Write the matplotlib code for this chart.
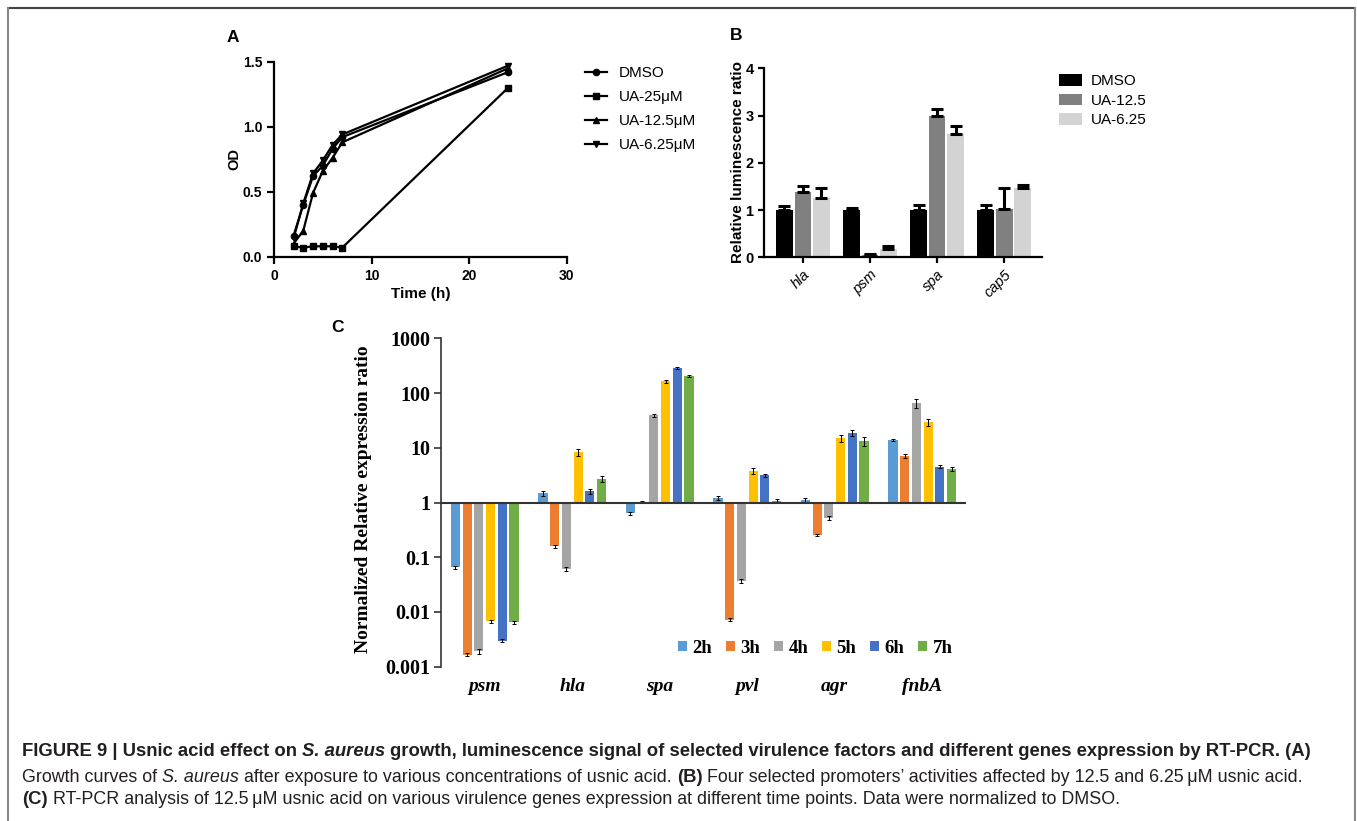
import matplotlib
matplotlib.use("Agg")
import numpy as np
import matplotlib.pyplot as plt
from matplotlib.lines import Line2D

# === Panel A: growth curves ===
time_h = [2, 3, 4, 5, 6, 7, 24]
od_dmso = [0.16, 0.40, 0.62, 0.70, 0.83, 0.92, 1.42]
od_ua25 = [0.08, 0.07, 0.08, 0.08, 0.08, 0.07, 1.30]
od_ua125 = [0.10, 0.20, 0.49, 0.66, 0.76, 0.88, 1.45]
od_ua625 = [0.14, 0.41, 0.64, 0.74, 0.86, 0.94, 1.47]
growth_labels = ["DMSO", "UA-25μM", "UA-12.5μM", "UA-6.25μM"]

# === Panel B: promoter luminescence ===
promoters = ["hla", "psm", "spa", "cap5"]
lum_dmso = [1.0, 1.0, 1.0, 1.0]
lum_dmso_err = [0.09, 0.05, 0.10, 0.10]
lum_ua125 = [1.38, 0.05, 2.98, 1.02]
lum_ua125_err = [0.12, 0.03, 0.15, 0.44]
lum_ua625 = [1.25, 0.18, 2.61, 1.47]
lum_ua625_err = [0.22, 0.05, 0.16, 0.07]
lum_labels = ["DMSO", "UA-12.5", "UA-6.25"]

# === Panel C: RT-PCR ===
genes = ["psm", "hla", "spa", "pvl", "agr", "fnbA"]
time_points = ["2h", "3h", "4h", "5h", "6h", "7h"]
expr_2h = [0.066, 1.48, 0.63, 1.2, 1.12, 13.8]
expr_3h = [0.00165, 0.158, 1.04, 0.0072, 0.256, 7.0]
expr_4h = [0.0019, 0.062, 39, 0.037, 0.52, 65]
expr_5h = [0.0067, 8.3, 163, 3.8, 15, 29.7]
expr_6h = [0.003, 1.59, 284, 3.16, 19, 4.5]
expr_7h = [0.0065, 2.7, 206, 1.07, 13.2, 4.1]
err_2h = [0.004, 0.15, 0.05, 0.1, 0.08, 0.7]
err_3h = [0.0001, 0.01, 0.03, 0.0004, 0.015, 0.6]
err_4h = [0.0002, 0.005, 2.5, 0.003, 0.05, 12]
err_5h = [0.0005, 1.2, 12, 0.5, 2.0, 4.5]
err_6h = [0.0002, 0.15, 12, 0.2, 2.5, 0.3]
err_7h = [0.0004, 0.3, 12, 0.08, 2.5, 0.3]
time_colors = ["#5B9BD5", "#ED7D31", "#A5A5A5", "#FFC000", "#4472C4", "#70AD47"]

W, H = 1357, 821
fig = plt.figure(figsize=(W / 100, H / 100), dpi=100)
plt.rcParams["font.family"] = ["Liberation Sans", "DejaVu Sans"]
serif = ["Liberation Serif", "DejaVu Serif"]


def px_box(x0, y_top, x1, y_bot):
    # pixel box -> figure fraction rect
    return [x0 / W, 1 - y_bot / H, (x1 - x0) / W, (y_bot - y_top) / H]


# ---------- A ----------
axA = fig.add_axes(px_box(274, 61.7, 566.7, 256.7))
series_a = [od_dmso, od_ua25, od_ua125, od_ua625]
markers_a = ["o", "s", "^", "v"]
for vals, mk, lab in zip(series_a, markers_a, growth_labels):
    axA.plot(time_h, vals, color="black", lw=1.6, marker=mk, ms=4.5, label=lab)
axA.set_xlim(0, 30)
axA.set_ylim(0, 1.5)
axA.set_xticks([0, 10, 20, 30])
axA.set_yticks([0.0, 0.5, 1.0, 1.5])
axA.set_yticklabels(["0.0", "0.5", "1.0", "1.5"])
axA.spines[["top", "right"]].set_visible(False)
for s in ["left", "bottom"]:
    axA.spines[s].set_linewidth(1.6)
axA.tick_params(width=1.6, length=5, labelsize=10)
for t in axA.get_xticklabels() + axA.get_yticklabels():
    t.set_fontweight("bold")
axA.set_xlabel("Time (h)", fontsize=11, fontweight="bold", labelpad=3)
axA.set_ylabel("OD", fontsize=10.5, fontweight="bold")
axA.yaxis.set_label_coords(-0.112, 0.5)
axA.legend(loc="upper left", bbox_to_anchor=(585 / W, 1 - 66 / H),
           bbox_transform=fig.transFigure, frameon=False, fontsize=11,
           handlelength=1.45, handletextpad=0.75, labelspacing=0.66,
           borderaxespad=0, borderpad=0)

# ---------- B ----------
axB = fig.add_axes(px_box(764, 68.3, 1041.7, 257.3))
xb = np.arange(len(promoters))
b_series = [(lum_dmso, lum_dmso_err, "black"),
            (lum_ua125, lum_ua125_err, "#808080"),
            (lum_ua625, lum_ua625_err, "#d3d3d3")]
for i, (vals, err, col) in enumerate(b_series):
    pos = xb + (i - 1) * 0.275
    axB.bar(pos, vals, width=0.25, color=col, label=lum_labels[i])
    axB.errorbar(pos, vals, yerr=[np.zeros(len(vals)), err], fmt="none",
                 ecolor="black", elinewidth=2.2, capsize=4, capthick=2.2)
axB.set_xlim(-0.58, 3.56)
axB.set_ylim(0, 4)
axB.set_yticks([0, 1, 2, 3, 4])
axB.set_xticks(xb)
axB.set_xticklabels(promoters, rotation=45, ha="right", rotation_mode="anchor",
                    fontstyle="italic", fontsize=10)
axB.spines[["top", "right"]].set_visible(False)
for s in ["left", "bottom"]:
    axB.spines[s].set_linewidth(1.6)
axB.tick_params(width=1.6, length=4, labelsize=10.5)
for t in axB.get_yticklabels():
    t.set_fontweight("bold")
axB.set_ylabel("Relative luminescence ratio", fontsize=11, fontweight="bold")
axB.yaxis.set_label_coords(-0.07, 0.504)
axB.legend(loc="upper left", bbox_to_anchor=(1059 / W, 1 - 74 / H),
           bbox_transform=fig.transFigure, frameon=False, fontsize=11,
           handlelength=1.5, handleheight=0.8, handletextpad=0.6,
           labelspacing=0.36, borderaxespad=0, borderpad=0)

# ---------- C ----------
axC = fig.add_axes(px_box(441, 338.3, 966, 666.7))
xc = np.arange(len(genes))
c_series = [expr_2h, expr_3h, expr_4h, expr_5h, expr_6h, expr_7h]
c_errs = [err_2h, err_3h, err_4h, err_5h, err_6h, err_7h]
for i, (vals, err) in enumerate(zip(c_series, c_errs)):
    vals = np.array(vals)
    pos = xc + (i - 2.5) * 0.134
    axC.bar(pos, vals - 1, bottom=1, width=0.105, color=time_colors[i],
            label=time_points[i], zorder=2)
    axC.errorbar(pos, vals, yerr=err, fmt="none", ecolor="black",
                 elinewidth=0.7, capsize=1.2, capthick=0.7, zorder=3)
axC.set_yscale("log")
axC.set_ylim(0.001, 1000)
axC.set_xlim(-0.5, len(genes) - 0.5)
axC.axhline(1, color="#333333", lw=1.5, zorder=4)
axC.spines[["top", "right", "bottom"]].set_visible(False)
axC.spines["left"].set_linewidth(1.2)
axC.spines["left"].set_color("#333333")
ticks_c = [0.001, 0.01, 0.1, 1, 10, 100, 1000]
axC.set_yticks(ticks_c)
axC.set_yticklabels(["0.001", "0.01", "0.1", "1", "10", "100", "1000"],
                    family=serif, fontweight="bold", fontsize=14.5)
axC.minorticks_off()
axC.tick_params(axis="y", length=5, width=1.2, color="#333333", pad=3)
axC.set_xticks(xc)
axC.set_xticklabels(genes, family=serif, fontweight="bold", fontstyle="italic",
                    fontsize=14)
axC.tick_params(axis="x", length=0, pad=8)
axC.set_ylabel("Normalized Relative expression ratio", family=serif,
               fontweight="bold", fontsize=14)
axC.yaxis.set_label_coords(-0.131, 0.509)
axC.legend(loc="center left", bbox_to_anchor=(678 / W, 1 - 648 / H),
           bbox_transform=fig.transFigure, ncol=6, frameon=False,
           prop={"family": serif, "weight": "bold", "size": 13.5},
           handlelength=0.48, handleheight=0.48, handletextpad=0.3,
           columnspacing=0.72, borderaxespad=0, borderpad=0)

# panel letters
fig.text(233 / W, 1 - 37.5 / H, "A", fontsize=12.5, fontweight="bold", ha="center", va="center")
fig.text(736 / W, 1 - 35 / H, "B", fontsize=12.5, fontweight="bold", ha="center", va="center")
fig.text(337 / W, 1 - 327 / H, "C", fontsize=12.5, fontweight="bold", ha="center", va="center")

# ---------- caption ----------
cap_family = ["Liberation Sans", "DejaVu Sans"]
cap_color = "#231f20"
renderer = fig.canvas.get_renderer()


def text_width(s, size, **kw):
    t = fig.text(0, 0, s, fontsize=size, family=cap_family, **kw)
    w = t.get_window_extent(renderer).width
    t.remove()
    return w


def rich_line(x_px, y_px, parts):
    x = x_px
    for s, size, kw in parts:
        space_w = text_width("a a", size, **kw) - text_width("aa", size, **kw)
        lead = len(s) - len(s.lstrip(" "))
        trail = len(s) - len(s.rstrip(" "))
        x += lead * space_w
        t = fig.text(x / W, 1 - y_px / H, s.strip(" "), fontsize=size, family=cap_family,
                     color=cap_color, va="baseline", **kw)
        x = t.get_window_extent(renderer).x1 + trail * space_w


sb, sr = 13.3, 12.9
B_ = {"fontweight": "bold"}
BI = {"fontweight": "bold", "fontstyle": "italic"}
R_ = {}
I_ = {"fontstyle": "italic"}
rich_line(22, 756, [("FIGURE 9 | Usnic acid effect on ", sb, B_), ("S. aureus", sb, BI),
                    (" growth, luminescence signal of selected virulence factors and different genes expression by RT-PCR. (A)", sb, B_)])
rich_line(22, 782, [("Growth curves of ", sr, R_), ("S. aureus", sr, I_),
                    (" after exposure to various concentrations of usnic acid. ", sr, R_), ("(B)", sb, B_),
                    (" Four selected promoters\u2019 activities affected by 12.5 and 6.25\u2009μM usnic acid.", sr, R_)])
rich_line(22, 804, [("(C)", sb, B_),
                    (" RT-PCR analysis of 12.5\u2009μM usnic acid on various virulence genes expression at different time points. Data were normalized to DMSO.", sr, R_)])

# figure frame
fig.add_artist(Line2D([8 / W, 1355 / W], [1 - 8 / H, 1 - 8 / H], color="#444444", lw=1.5))
fig.add_artist(Line2D([8 / W, 8 / W], [1 - 8 / H, 0], color="#888888", lw=1.5))
fig.add_artist(Line2D([1355 / W, 1355 / W], [1 - 8 / H, 0], color="#888888", lw=1.5))

fig.savefig("out.png", dpi=100)
